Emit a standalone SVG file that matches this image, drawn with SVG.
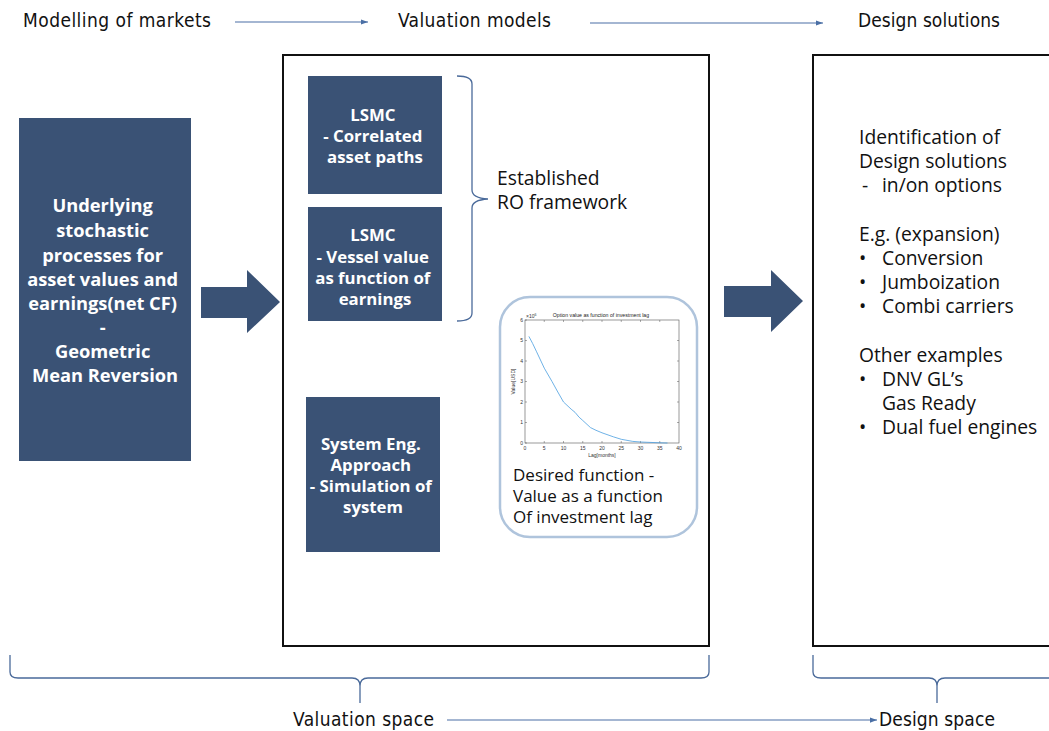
<svg xmlns="http://www.w3.org/2000/svg" width="1049" height="731" viewBox="0 0 1049 731">
  <defs>
    <style>
      .hdr { font-family: "DejaVu Sans Condensed", "Liberation Sans Narrow", "Liberation Sans", sans-serif; font-size: 19px; fill: #111; }
      .body { font-family: "Open Sans", "DejaVu Sans", sans-serif; font-size: 19.3px; fill: #111; }
      .small { font-size: 17px; }
      .node { fill: #3a5275; }
      .nodetxt { font-family: "Open Sans", "DejaVu Sans", sans-serif; font-size: 16.8px; font-weight: bold; fill: #fff; text-anchor: middle; }
      .big { font-size: 18.3px; }
      .frame { fill: #fff; stroke: #111; stroke-width: 2; }
      .thin { fill: none; stroke: #4a6fa5; stroke-width: 1.2; }
      .brace { fill: none; stroke: #4a6a9a; stroke-width: 1.3; }
      .ax { fill: none; stroke: #555; stroke-width: 0.6; }
      .tick { font-family: "Liberation Sans", sans-serif; font-size: 5px; fill: #333; }
    </style>
    <marker id="ah" viewBox="0 0 8 8" refX="8" refY="4" markerWidth="6" markerHeight="6" orient="auto">
      <path d="M0,1 L8,4 L0,7 z" fill="#4a6fa5"/>
    </marker>
  </defs>

  <!-- header labels -->
  <g id="header">
    <text class="hdr" x="23" y="27" textLength="188">Modelling of markets</text>
    <text class="hdr" x="398" y="27" textLength="153">Valuation models</text>
    <text class="hdr" x="858" y="27" textLength="142">Design solutions</text>
  </g>

  <!-- framing boxes -->
  <g id="valuation-frame"><rect class="frame" x="283" y="55" width="426" height="591"/></g>
  <g id="design-frame"><rect class="frame" x="813" y="55" width="250" height="591"/></g>

  <!-- left process node -->
  <g id="underlying">
    <rect class="node" x="19" y="118" width="172" height="343"/>
    <text class="nodetxt big">
      <tspan x="105" y="212">Underlying</tspan>
      <tspan x="105" y="237">stochastic</tspan>
      <tspan x="105" y="262">processes for</tspan>
      <tspan x="105" y="286">asset values and</tspan>
      <tspan x="105" y="310">earnings(net CF)</tspan>
      <tspan x="105" y="334">-</tspan>
      <tspan x="105" y="358">Geometric</tspan>
      <tspan x="105" y="382">Mean Reversion</tspan>
    </text>
  </g>

  <g id="lsmc-paths">
    <rect class="node" x="308" y="76" width="134" height="118"/>
    <text class="nodetxt">
      <tspan x="375" y="121">LSMC</tspan>
      <tspan x="375" y="142">- Correlated</tspan>
      <tspan x="375" y="163">asset paths</tspan>
    </text>
  </g>

  <g id="lsmc-vessel">
    <rect class="node" x="308" y="207" width="134" height="114"/>
    <text class="nodetxt">
      <tspan x="375" y="241">LSMC</tspan>
      <tspan x="375" y="263">- Vessel value</tspan>
      <tspan x="375" y="284">as function of</tspan>
      <tspan x="375" y="305">earnings</tspan>
    </text>
  </g>

  <g id="system-eng">
    <rect class="node" x="306" y="397" width="134" height="155"/>
    <text class="nodetxt">
      <tspan x="373" y="450">System Eng.</tspan>
      <tspan x="373" y="471">Approach</tspan>
      <tspan x="373" y="492">- Simulation of</tspan>
      <tspan x="373" y="513">system</tspan>
    </text>
  </g>

  <g id="ro-framework">
    <path class="brace" d="M457,76 Q472,76 472,84 L472,190 Q472,198 488,199 Q472,200 472,208 L472,313 Q472,321 457,321"/>
    <text class="body"><tspan x="497" y="185">Established</tspan><tspan x="497" y="209">RO framework</tspan></text>
  </g>

  <!-- desired function panel with plot -->
  <g id="desired-function">
    <rect x="500" y="297" width="197" height="240" rx="30" ry="30" fill="#fff" stroke="#afc4dc" stroke-width="2.5"/>
    <text x="601" y="317" text-anchor="middle" font-family="Liberation Sans, sans-serif" font-size="5.2" fill="#222">Option value as function of investment lag</text>
    <rect class="ax" x="525" y="320" width="154" height="123"/>
    <g stroke="#555" stroke-width="0.5">
      <path d="M525,443.0h2M525,422.5h2M525,402.0h2M525,381.5h2M525,361.0h2M525,340.5h2M525,320.0h2"/>
      <path d="M679,422.5h-2M679,402.0h-2M679,381.5h-2M679,361.0h-2M679,340.5h-2"/>
      <path d="M544.25,443v-2M563.5,443v-2M582.75,443v-2M602,443v-2M621.25,443v-2M640.5,443v-2M659.75,443v-2"/>
      <path d="M544.25,320v2M563.5,320v2M582.75,320v2M602,320v2M621.25,320v2M640.5,320v2M659.75,320v2"/>
    </g>
    <g class="tick" text-anchor="end">
      <text x="523" y="444.8">0</text><text x="523" y="424.3">1</text><text x="523" y="403.8">2</text>
      <text x="523" y="383.3">3</text><text x="523" y="362.8">4</text><text x="523" y="342.3">5</text><text x="523" y="321.8">6</text>
    </g>
    <g class="tick" text-anchor="middle">
      <text x="525" y="450">0</text><text x="544.25" y="450">5</text><text x="563.5" y="450">10</text>
      <text x="582.75" y="450">15</text><text x="602" y="450">20</text><text x="621.25" y="450">25</text>
      <text x="640.5" y="450">30</text><text x="659.75" y="450">35</text><text x="679" y="450">40</text>
      <text x="602" y="457">Lag[months]</text>
    </g>
    <text class="tick" x="526" y="318">×10<tspan dy="-2" font-size="3.5">6</tspan></text>
    <text class="tick" transform="translate(515,381.5) rotate(-90)" text-anchor="middle">Value[USD]</text>
    <polyline fill="none" stroke="#4a9ee0" stroke-width="0.8" points="528.9,336.4 532.7,343.6 536.6,351.8 544.3,368.2 552,381.5 557.8,392 563.5,402 571.2,409.2 575,412.3 578.9,417 582.8,420.5 590.5,427.6 596,430.3 602,432.8 613.6,436.9 621.3,439.3 632.8,441.4 640.5,442 659.8,442.8 667.5,443"/>
    <text class="body small"><tspan x="513" y="481">Desired function -</tspan><tspan x="513" y="502">Value as a function</tspan><tspan x="513" y="523">Of investment lag</tspan></text>
  </g>

  <!-- design solution list -->
  <g id="design-list">
    <text class="body">
      <tspan x="859" y="144">Identification of</tspan>
      <tspan x="859" y="168">Design solutions</tspan>
      <tspan x="862" y="192">-</tspan><tspan x="882" y="192">in/on options</tspan>
      <tspan x="859" y="241">E.g. (expansion)</tspan>
      <tspan x="859" y="265">•</tspan><tspan x="882" y="265">Conversion</tspan>
      <tspan x="859" y="289">•</tspan><tspan x="882" y="289">Jumboization</tspan>
      <tspan x="859" y="313">•</tspan><tspan x="882" y="313">Combi carriers</tspan>
      <tspan x="859" y="362">Other examples</tspan>
      <tspan x="859" y="386">•</tspan><tspan x="882" y="386">DNV GL’s</tspan>
      <tspan x="882" y="410">Gas Ready</tspan>
      <tspan x="859" y="434">•</tspan><tspan x="882" y="434">Dual fuel engines</tspan>
    </text>
  </g>

  <!-- footer labels -->
  <g id="footer">
    <text class="hdr" x="293" y="726" textLength="141">Valuation space</text>
    <text class="hdr" x="879" y="726" textLength="116">Design space</text>
  </g>

  <!-- connectors -->
  <g id="connectors">
    <line class="thin" x1="235" y1="22" x2="368" y2="22" marker-end="url(#ah)"/>
    <line class="thin" x1="590" y1="23" x2="823" y2="23" marker-end="url(#ah)"/>
    <line class="thin" x1="447" y1="720" x2="877" y2="720" marker-end="url(#ah)"/>
    <path class="node" d="M201,287 L247,287 L247,270 L280,302 L247,333 L247,318 L201,318 z"/>
    <path class="node" d="M724,286 L771,286 L771,270 L803,301 L771,332 L771,317 L724,317 z"/>
    <path class="brace" d="M10,655 L10,672 Q10,678 18,678 L352,678 Q360,678 360,686 L360,703 M360,686 Q360,678 368,678 L701,678 Q709,678 709,672 L709,655"/>
    <path class="brace" d="M813,655 L813,672 Q813,678 821,678 L929,678 Q937,678 937,686 L937,703 M937,686 Q937,678 945,678 L1049,678"/>
  </g>
</svg>
